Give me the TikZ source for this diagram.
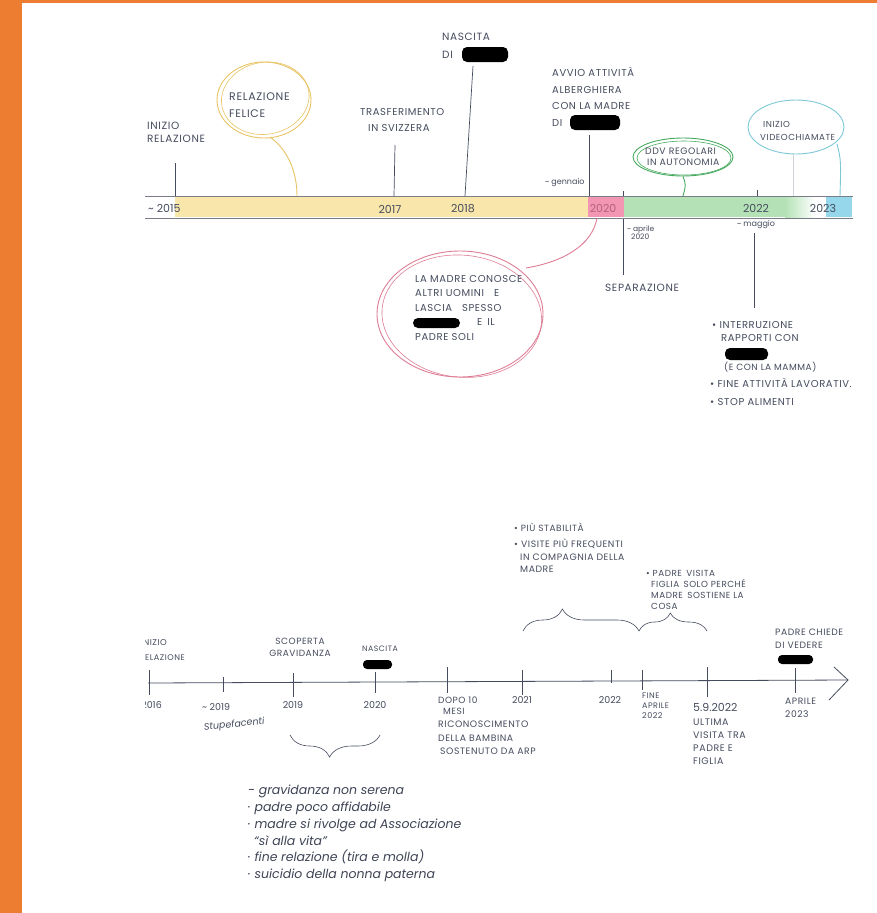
\documentclass[tikz,border=0pt]{standalone}
\usepackage{fontspec}
\setmainfont{Poppins}
\newfontfamily\capsf{Poppins}[LetterSpace=6]
\newcommand\capsz[2]{\capsf\fontsize{#1}{#2}\selectfont}
\usetikzlibrary{shapes.geometric,decorations.pathreplacing}
\definecolor{orangebar}{RGB}{237,125,49}
\definecolor{ink}{RGB}{70,76,94}
\definecolor{bandline}{RGB}{120,125,135}
\definecolor{bandyellow}{RGB}{248,230,170}
\definecolor{bandpink}{RGB}{242,150,180}
\definecolor{bandgreen}{RGB}{180,226,182}
\definecolor{bandblue}{RGB}{150,215,235}
\definecolor{cyellow}{RGB}{232,196,100}
\definecolor{cred}{RGB}{222,125,150}
\definecolor{cgreen}{RGB}{70,170,95}
\definecolor{cblue}{RGB}{125,200,215}
\begin{document}
\begin{tikzpicture}[x=1pt,y=-1pt,
  lab/.style={inner sep=0pt, text=ink, align=left, anchor=north west, font=\capsz{10.5}{#1}},
  lab/.default=14,
  small/.style={inner sep=0pt, text=ink, anchor=west, font=\fontsize{8}{9}\selectfont},
  yr/.style={inner sep=0pt, text=ink, font=\fontsize{11}{12}\selectfont},
  byr/.style={inner sep=0pt, text=ink, font=\fontsize{9.5}{11}\selectfont},
  conn/.style={draw=ink, line width=0.7pt},
  tick/.style={draw=ink, line width=0.6pt},
  blob/.style={fill=black, rounded corners=5pt},
  ring/.style={ellipse, inner sep=0pt, line width=0.9pt},
  hand/.style={inner sep=0pt, text=ink!90!black, align=left, anchor=north west, font=\fontsize{12.5}{16.8}\selectfont\itshape},
]
\useasboundingbox (0,0) rectangle (877,913);
\fill[white] (0,0) rectangle (877,913);
% orange frame
\fill[orangebar] (0,0) rectangle (22,913);
\fill[orangebar] (22,0) rectangle (877,2.5);

% ================= TOP TIMELINE =================
\fill[bandyellow] (175,197) rectangle (588,217);
\fill[bandpink] (588,197) rectangle (624,217);
\fill[bandgreen] (624,197) rectangle (785,217);
\shade[left color=bandgreen, right color=white] (785,197) rectangle (815,217);
\fill[bandblue] (826,197) rectangle (852,217);
\draw[bandline, line width=0.8pt] (145,196) -- (853,196);
\draw[bandline, line width=0.8pt] (145,218) -- (853,218);

\node[yr, anchor=west] (y2015) at (148,208) {\textasciitilde\ 2015};
\node[yr] (y2017) at (390,209) {2017};
\node[yr] (y2018) at (463,209) {2018};
\node[yr, text=cred!80!black] (y2020) at (603,208) {2020};
\node[yr] (y2022) at (756,208) {2022};
\node[yr] (y2023) at (823,208) {2023};

% inizio relazione
\node[lab=13] (inizio) at (147,122) {INIZIO\\RELAZIONE};
\coordinate (inizioA) at (175,163);
\coordinate (inizioB) at (175,196);
\draw[conn] (inizioA) -- (inizioB);

% relazione felice
\node[ring, draw=cyellow, minimum width=94pt, minimum height=76pt] (felicecirc) at (264,100) {};
\draw[cyellow, line width=0.6pt, rotate around={10:(felicecirc.center)}] ([shift={(1.5,-1.5)}]felicecirc.center) ellipse [x radius=44, y radius=36];
\node[lab=17, font=\capsz{11}{17}] (felice) at (229,93) {RELAZIONE\\FELICE};
\coordinate (feliceB) at (297,196);
\draw[cyellow, line width=0.9pt] (270,137) .. controls (288,150) and (297,172) .. (feliceB);

% trasferimento
\node[lab=16, font=\capsz{10}{16}] (trasf) at (360,108) {TRASFERIMENTO\\\hspace*{8pt}IN SVIZZERA};
\coordinate (trasfA) at (395,145);
\coordinate (trasfB) at (394,196);
\draw[conn] (trasfA) -- (trasfB);

% nascita
\node[lab=18] (nascita) at (442,33) {NASCITA\\DI};
\fill[blob] (462,47) rectangle (508,62);
\coordinate (nascitaA) at (473,66);
\coordinate (nascitaB) at (465,196);
\draw[conn] (nascitaA) -- (nascitaB);

% avvio attivita
\node[lab=16.7, font=\capsz{10}{16.7}] (avvio) at (552,67) {AVVIO ATTIVITÀ\\ALBERGHIERA\\CON LA MADRE\\DI};
\fill[blob] (570,115) rectangle (620,130);
\coordinate (avvioA) at (589,135);
\coordinate (avvioB) at (589,196);
\draw[conn] (avvioA) -- (avvioB);
\node[small] (gennaio) at (545,183) {\textasciitilde\ gennaio};

% DDV regolari
\node[ring, draw=cgreen, minimum width=100pt, minimum height=38pt] (ddvcirc) at (683,157) {};
\draw[cgreen, line width=0.6pt] ([shift={(1,1)}]ddvcirc.center) ellipse [x radius=47, y radius=17];
\node[lab=11, font=\capsz{9.3}{11}] (ddv) at (645,148) {DDV REGOLARI\\\hspace*{2pt}IN AUTONOMIA};
\coordinate (ddvB) at (683,196);
\draw[cgreen, line width=0.9pt] (ddvcirc.south) .. controls (686,185) .. (ddvB);

% videochiamate
\node[ring, draw=cblue, minimum width=96pt, minimum height=54pt] (videocirc) at (796,127) {};
\node[lab=13, font=\capsz{8.7}{13}] (video) at (760,121) {\hspace*{3pt}INIZIO\\VIDEOCHIAMATE};
\coordinate (videoB) at (840,196);
\draw[cblue, line width=0.9pt] (837,144) .. controls (841,160) .. (videoB);
\coordinate (videoC) at (793,154);
\coordinate (videoD) at (793,196);
\draw[ink!25, line width=0.5pt] (videoC) -- (videoD);

% ticks on band
\draw[tick] (623,191) -- (623,196);
\draw[tick] (757,190) -- (757,196);

% la madre conosce
\node[ring, draw=cred, minimum width=166pt, minimum height=126pt] (madrecirc) at (460,314) {};
\draw[cred, line width=0.6pt, rotate around={-6:(madrecirc.center)}] ([shift={(2,2)}]madrecirc.center) ellipse [x radius=80, y radius=61];
\node[lab=14.5, font=\capsz{10}{14.5}] (madre) at (415,275) {LA MADRE CONOSCE\\ALTRI UOMINI\quad E\\LASCIA\quad SPESSO\\\hspace*{62pt}E\enspace IL\\PADRE SOLI};
\fill[blob] (413,318) rectangle (460,328);
\coordinate (madreB) at (597,218);
\draw[cred, line width=0.9pt] (526,268) .. controls (562,262) and (592,246) .. (madreB);

% separazione
\coordinate (sepA) at (623,219);
\coordinate (sepB) at (623,275);
\draw[conn] (sepA) -- (sepB);
\node[lab=8, font=\fontsize{7.5}{8}\selectfont] (aprile) at (627,226) {\textasciitilde\ aprile\\\hspace*{4pt}2020};
\node[lab, anchor=west] (separ) at (605,288) {SEPARAZIONE};

% maggio
\node[small] (maggio) at (737,225) {\textasciitilde\ maggio};
\coordinate (maggA) at (754,233);
\coordinate (maggB) at (754,308);
\draw[conn] (maggA) -- (maggB);
\node[lab=13, font=\capsz{10}{13}] (interr) at (712,321) {\textbullet\ INTERRUZIONE\\\hspace*{9pt}RAPPORTI CON};
\fill[blob] (725,348) rectangle (768,360);
\node[lab, anchor=west, font=\capsz{9}{10}] (mamma) at (724,367) {(E CON LA MAMMA)};
\node[lab, anchor=west, font=\capsz{10}{10}] (fine) at (710,383) {\textbullet\ FINE ATTIVITÀ LAVORATIV.};
\node[lab, anchor=west, font=\capsz{10}{10}] (stop) at (710,402) {\textbullet\ STOP ALIMENTI};

% ================= BOTTOM TIMELINE =================
\coordinate (ax0) at (148,683);
\coordinate (ax1) at (848,680);
\coordinate (ah1) at (834,667);
\coordinate (ah2) at (829,700);
\draw[ink, line width=0.8pt] (ax0) -- (ax1);
\draw[ink, line width=0.8pt] (ah1) -- (ax1) -- (ah2);

\draw[tick] (149,670) -- (149,695);
\draw[tick] (223,677) -- (223,692);
\draw[tick] (293,673) -- (293,697);
\draw[tick] (375,672) -- (375,693);
\draw[tick] (447,667) -- (447,693);
\draw[tick] (522,670) -- (522,695);
\draw[tick] (611,670) -- (611,683);
\draw[tick] (642,670) -- (642,690);
\draw[tick] (707,667) -- (707,697);
\draw[tick] (795,668) -- (795,693);

\begin{scope}
\clip (145,600) rectangle (260,720);
\node[inner sep=0pt, text=ink, anchor=east, font=\capsz{8.5}{10}] (inizio2a) at (167,643) {INIZIO};
\node[inner sep=0pt, text=ink, anchor=east, font=\capsz{8.2}{10}] (inizio2b) at (185,658) {RELAZIONE};
\node[byr, anchor=east] (y2016) at (162,705) {2016};
\end{scope}

\node[byr, anchor=west] (b2019a) at (202,707) {\textasciitilde\ 2019};
\node[inner sep=0pt, text=ink, anchor=west, rotate=6, font=\fontsize{9.5}{11}\selectfont\itshape] (stupe) at (204,728) {Stupefacenti};

\node[lab=12, align=center, anchor=north, font=\capsz{9}{12}] (scoperta) at (300,638) {SCOPERTA\\GRAVIDANZA};
\node[byr] (b2019) at (293,705) {2019};

\node[inner sep=0pt, text=ink, font=\capsz{7.8}{9}] (nascita2) at (380,649) {NASCITA};
\fill[blob, rounded corners=4pt] (363,660) rectangle (392,669);
\node[byr] (b2020) at (375,705) {2020};

\node[lab=11, font=\capsz{9}{11}] (dopo) at (438,697) {DOPO 10\\\hspace*{5pt}MESI};
\node[lab=13.5, font=\capsz{9.3}{13.5}] (ricon) at (438,721) {RICONOSCIMENTO\\DELLA BAMBINA\\\hspace*{2pt}SOSTENUTO DA ARP};

\node[byr] (b2021) at (522,700) {2021};
\node[byr] (b2022) at (610,700) {2022};
\node[lab=10, font=\capsz{8}{10}] (fineapr) at (642,693) {FINE\\APRILE\\2022};
\node[inner sep=0pt, text=ink, anchor=west, font=\fontsize{11}{12}\selectfont] (d592022) at (693,707) {5.9.2022};
\node[lab=13, font=\capsz{9.5}{13}] (ultima) at (693,719) {ULTIMA\\VISITA TRA\\PADRE E\\FIGLIA};
\node[lab=13, font=\capsz{9.2}{13}] (apr23) at (785,698) {APRILE\\2023};
\node[lab=13, font=\capsz{9.2}{13}] (chiede) at (775,629) {PADRE CHIEDE\\DI VEDERE};
\fill[blob, rounded corners=4pt] (778,655) rectangle (813,664);

\node[lab, font=\capsz{9}{13}] (stabil) at (514,523) {\textbullet\ PIÙ STABILITÀ};
\node[lab=12.5, font=\capsz{9.3}{12.5}] (visite) at (514,539) {\textbullet\ VISITE PIÙ FREQUENTI\\\hspace*{6pt}IN COMPAGNIA DELLA\\\hspace*{6pt}MADRE};
\node[lab=11, font=\capsz{8.8}{11}] (visita) at (646,570) {\textbullet\ PADRE\enspace VISITA\\\hspace*{5pt}FIGLIA\enspace SOLO PERCHÉ\\\hspace*{5pt}MADRE\enspace SOSTIENE LA\\\hspace*{5pt}COSA};

\coordinate (br1a) at (523,631);
\coordinate (br1b) at (639,631);
\coordinate (br2b) at (707,631);
\draw[ink, line width=0.6pt, decorate, decoration={brace, amplitude=22pt, aspect=0.34}] (br1a) -- (br1b);
\draw[ink, line width=0.6pt, decorate, decoration={brace, amplitude=18pt, aspect=0.46}] (br1b) -- (br2b);
\coordinate (br3a) at (380,735);
\coordinate (br3b) at (290,735);
\draw[ink, line width=0.6pt, decorate, decoration={brace, amplitude=22pt, aspect=0.56}] (br3a) -- (br3b);

\node[hand] (causes) at (248,785) {- gravidanza non serena\\· padre poco affidabile\\· madre si rivolge ad Associazione\\\hspace*{6pt}“sì alla vita”\\· fine relazione (tira e molla)\\· suicidio della nonna paterna};
\end{tikzpicture}
\end{document}
